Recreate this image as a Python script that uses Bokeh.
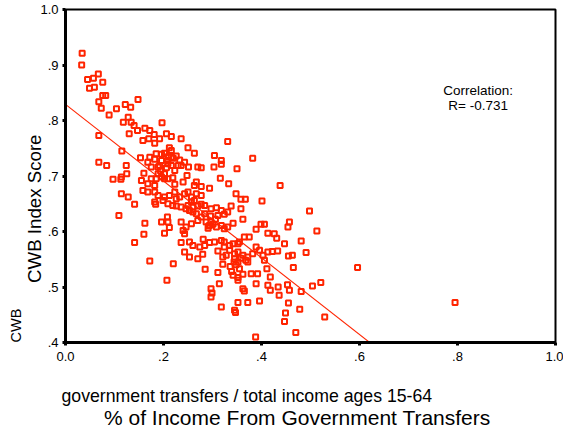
import numpy as np
from bokeh.plotting import figure
from bokeh.models import Range1d, FixedTicker, CustomJSTickFormatter, Label, Title
from bokeh.embed import file_html
from bokeh.resources import INLINE

# share of income (ages 15-64) that comes from government transfers
transfer_share = [
    0.034, 0.033, 0.067, 0.045, 0.057, 0.076, 0.049, 0.059, 0.076, 0.082,
    0.068, 0.073, 0.089, 0.104, 0.122, 0.133, 0.148, 0.128, 0.118, 0.134,
    0.140, 0.197, 0.068, 0.130, 0.147, 0.162, 0.172, 0.158, 0.170, 0.181,
    0.182, 0.192, 0.206, 0.216, 0.236, 0.331, 0.115, 0.153, 0.068, 0.084,
    0.124, 0.212, 0.250, 0.263, 0.172, 0.182, 0.196, 0.202, 0.210, 0.216,
    0.304, 0.318, 0.318, 0.382, 0.243, 0.236, 0.251, 0.270, 0.277, 0.303,
    0.350, 0.160, 0.125, 0.114, 0.097, 0.113, 0.248, 0.316, 0.168, 0.196,
    0.175, 0.189, 0.206, 0.216, 0.223, 0.230, 0.185, 0.175, 0.185, 0.196,
    0.202, 0.219, 0.333, 0.267, 0.277, 0.294, 0.240, 0.438, 0.168, 0.182,
    0.223, 0.209, 0.192, 0.155, 0.263, 0.114, 0.128, 0.141, 0.158, 0.168,
    0.182, 0.189, 0.202, 0.212, 0.223, 0.226, 0.233, 0.243, 0.250, 0.257,
    0.267, 0.277, 0.348, 0.358, 0.367, 0.401, 0.182, 0.199, 0.209, 0.226,
    0.236, 0.250, 0.260, 0.270, 0.277, 0.297, 0.308, 0.318, 0.338, 0.358,
    0.498, 0.162, 0.196, 0.209, 0.236, 0.257, 0.141, 0.160, 0.202, 0.212,
    0.240, 0.243, 0.399, 0.406, 0.457, 0.454, 0.513, 0.481, 0.491, 0.426,
    0.431, 0.447, 0.413, 0.433, 0.455, 0.463, 0.257, 0.263, 0.284, 0.219,
    0.246, 0.260, 0.267, 0.277, 0.284, 0.311, 0.324, 0.331, 0.296, 0.270,
    0.287, 0.294, 0.297, 0.308, 0.318, 0.324, 0.331, 0.342, 0.362, 0.389,
    0.413, 0.236, 0.253, 0.260, 0.274, 0.284, 0.294, 0.304, 0.318, 0.324,
    0.335, 0.342, 0.352, 0.355, 0.365, 0.375, 0.243, 0.253, 0.270, 0.280,
    0.311, 0.324, 0.335, 0.345, 0.352, 0.362, 0.372, 0.382, 0.389, 0.396,
    0.403, 0.406, 0.422, 0.465, 0.285, 0.311, 0.321, 0.345, 0.352, 0.355,
    0.336, 0.362, 0.379, 0.392, 0.411, 0.418, 0.342, 0.352, 0.220, 0.521,
    0.596, 0.418, 0.434, 0.453, 0.457, 0.436, 0.481, 0.504, 0.455, 0.478,
    0.449, 0.447, 0.529, 0.470, 0.795, 0.389, 0.413, 0.297, 0.297, 0.299,
    0.318, 0.314, 0.362, 0.365, 0.352, 0.372, 0.396, 0.345, 0.347, 0.388,
    0.352, 0.372, 0.321, 0.328, 0.172, 0.207, 0.189, 0.202, 0.209, 0.184,
    0.253, 0.109, 0.208, 0.246, 0.220, 0.208, 0.301, 0.292, 0.344, 0.358,
    0.291, 0.216, 0.339, 0.348, 0.233, 0.194, 0.226, 0.306, 0.281, 0.368,
]

# CWB index score for each community
cwb_score = [
    0.921, 0.900, 0.884, 0.874, 0.876, 0.869, 0.858, 0.860, 0.845, 0.845,
    0.834, 0.822, 0.810, 0.821, 0.829, 0.824, 0.838, 0.806, 0.797, 0.797,
    0.791, 0.796, 0.773, 0.776, 0.782, 0.786, 0.782, 0.764, 0.767, 0.775,
    0.759, 0.767, 0.776, 0.771, 0.767, 0.762, 0.745, 0.733, 0.725, 0.719,
    0.719, 0.751, 0.751, 0.741, 0.734, 0.730, 0.739, 0.741, 0.735, 0.734,
    0.737, 0.728, 0.721, 0.732, 0.725, 0.719, 0.716, 0.716, 0.715, 0.716,
    0.713, 0.705, 0.704, 0.698, 0.694, 0.694, 0.701, 0.696, 0.725, 0.728,
    0.716, 0.716, 0.715, 0.719, 0.710, 0.719, 0.740, 0.695, 0.695, 0.698,
    0.695, 0.697, 0.686, 0.689, 0.681, 0.678, 0.689, 0.683, 0.686, 0.683,
    0.685, 0.722, 0.719, 0.692, 0.683, 0.668, 0.662, 0.649, 0.674, 0.671,
    0.671, 0.665, 0.662, 0.665, 0.671, 0.659, 0.662, 0.668, 0.671, 0.662,
    0.668, 0.665, 0.668, 0.658, 0.658, 0.655, 0.653, 0.656, 0.650, 0.646,
    0.644, 0.647, 0.644, 0.646, 0.649, 0.641, 0.643, 0.638, 0.646, 0.641,
    0.637, 0.615, 0.617, 0.617, 0.617, 0.614, 0.580, 0.595, 0.597, 0.607,
    0.602, 0.596, 0.613, 0.613, 0.617, 0.608, 0.601, 0.583, 0.562, 0.596,
    0.588, 0.578, 0.563, 0.565, 0.556, 0.557, 0.653, 0.656, 0.647, 0.647,
    0.641, 0.635, 0.632, 0.626, 0.632, 0.629, 0.631, 0.635, 0.628, 0.620,
    0.617, 0.611, 0.617, 0.608, 0.611, 0.605, 0.608, 0.615, 0.622, 0.604,
    0.597, 0.580, 0.581, 0.575, 0.572, 0.575, 0.580, 0.581, 0.584, 0.581,
    0.575, 0.578, 0.578, 0.581, 0.590, 0.590, 0.563, 0.554, 0.551, 0.559,
    0.565, 0.572, 0.566, 0.560, 0.563, 0.557, 0.554, 0.560, 0.572, 0.566,
    0.557, 0.548, 0.564, 0.535, 0.532, 0.526, 0.541, 0.551, 0.545, 0.533,
    0.537, 0.523, 0.524, 0.524, 0.533, 0.518, 0.521, 0.517, 0.542, 0.508,
    0.535, 0.494, 0.500, 0.504, 0.494, 0.485, 0.492, 0.502, 0.471, 0.460,
    0.453, 0.438, 0.446, 0.418, 0.472, 0.506, 0.503, 0.497, 0.482, 0.489,
    0.464, 0.506, 0.497, 0.493, 0.472, 0.472, 0.475, 0.458, 0.454, 0.410,
    0.512, 0.545, 0.554, 0.557, 0.547, 0.512, 0.704, 0.704, 0.695, 0.649,
    0.638, 0.629, 0.626, 0.608, 0.732, 0.728, 0.613, 0.610, 0.545, 0.552,
    0.606, 0.746, 0.528, 0.540, 0.729, 0.709, 0.736, 0.622, 0.586, 0.548,
]

# fitted regression line and its reported correlation
fit_intercept = 0.829
fit_slope = -0.691
fit_x_end = 0.671
correlation_r = -0.731

x_ticks = [0.0, 0.2, 0.4, 0.6, 0.8, 1.0]
y_ticks = [0.4, 0.5, 0.6, 0.7, 0.8, 0.9, 1.0]

POINT_COLOR = "#ff2400"
FONT = "Liberation Sans"

p = figure(
    width=563, height=430,
    x_range=Range1d(0.0, 1.0), y_range=Range1d(0.4, 1.0),
    output_backend="svg", toolbar_location=None,
    min_border_left=64, min_border_right=8,
    min_border_top=9, min_border_bottom=88,
)
p.background_fill_color = "white"
p.border_fill_color = "white"
p.xgrid.visible = False
p.ygrid.visible = False
p.outline_line_color = "black"
p.outline_line_width = 2
p.outline_line_alpha = 1.0

# SPSS-style tick labels: ".2", ".4" ... but "0.0" and "1.0"
fmt_code = """
const s = tick.toFixed(1);
return (s.startsWith('0.') && s !== '0.0') ? s.slice(1) : s;
"""
for ax, ticks in ((p.xaxis[0], x_ticks), (p.yaxis[0], y_ticks)):
    ax.ticker = FixedTicker(ticks=ticks)
    ax.formatter = CustomJSTickFormatter(code=fmt_code)
    ax.axis_line_color = "black"
    ax.axis_line_width = 3
    ax.major_tick_line_color = "black"
    ax.major_tick_line_width = 3
    ax.major_tick_in = 0
    ax.major_tick_out = 3
    ax.minor_tick_line_color = None
    ax.major_label_text_font = FONT
    ax.major_label_text_font_size = "13px"
    ax.major_label_text_color = "black"
p.xaxis[0].major_label_standoff = 6
p.yaxis[0].major_label_standoff = 4

# blank spacer label keeps room between the tick labels and the captions
p.xaxis[0].axis_label = "\u00a0"
p.xaxis[0].axis_label_text_font_size = "10px"
p.xaxis[0].axis_label_standoff = 8

p.scatter(
    transfer_share, cwb_score, marker="square", size=5,
    line_color=POINT_COLOR, line_width=2, fill_alpha=0,
)

# regression line
fit_x = [0.0, fit_x_end]
fit_y = [fit_intercept + fit_slope * v for v in fit_x]
p.line(fit_x, fit_y, line_color=POINT_COLOR, line_width=1.1)

for s, y in (("Correlation:", 0.854), (f"R= {correlation_r:.3f}", 0.827)):
    p.add_layout(Label(
        x=0.842, y=y, text=s, text_font=FONT, text_font_size="13.5px",
        text_align="center", text_baseline="middle", text_color="black",
    ))

def caption(s, size, side, offset, standoff, valign="middle"):
    p.add_layout(Title(
        text=s, text_font=FONT, text_font_size=size, text_font_style="normal",
        text_color="black", align="left", offset=offset,
        standoff=standoff, vertical_align=valign,
    ), side)

caption("CWB Index Score", "18.7px", "left", 59.5, -17)
caption("CWB", "14.5px", "left", 0, 13)
caption("government transfers / total income ages 15-64", "17.7px", "below", -4, -2)
caption("% of Income From Government Transfers", "21px", "below", 38.5, -1)

open("out.html", "w").write(file_html(p, INLINE))
